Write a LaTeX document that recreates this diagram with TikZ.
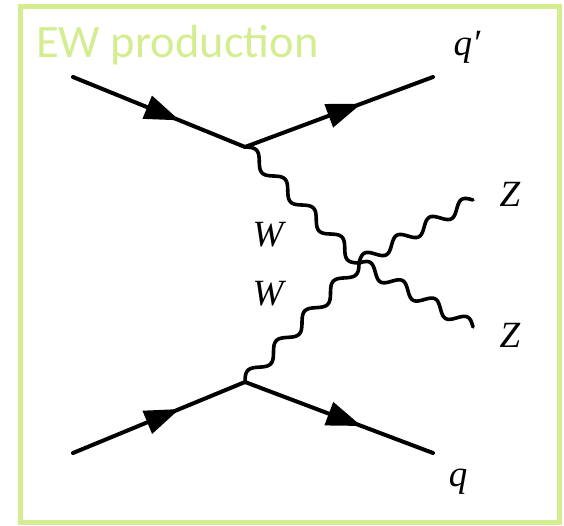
\documentclass[tikz,border=0pt]{standalone}
\usepackage{fontspec}
\setmainfont{Liberation Serif}
\newfontfamily\titlefont{Carlito}
\usetikzlibrary{calc,arrows.meta,decorations.markings}
\definecolor{ewgreen}{RGB}{212,237,145}
\newcommand{\wavebetween}[3]{%
  \draw[wavy] let \p1=(#1), \p2=(#2), \n1={veclen(\x2-\x1,\y2-\y1)} in
    plot[domain=0:1, samples=160, variable=\t]
    ({\x1+\t*(\x2-\x1)-sin(360*#3*\t)*6*(\y2-\y1)/\n1},
     {\y1+\t*(\y2-\y1)+sin(360*#3*\t)*6*(\x2-\x1)/\n1});}
\begin{document}
\begin{tikzpicture}[x=1pt,y=-1pt,
  fermion/.style={line width=4pt, line cap=round,
    postaction={decorate},
    decoration={markings, mark=at position 0.62 with {\arrow{Triangle[length=35pt,width=24pt]}}}},
  wavy/.style={line width=3.6pt, line cap=round, line join=round},
  lab/.style={font=\fontsize{37}{42}\selectfont\itshape, inner sep=0pt}]
\useasboundingbox (0,0) rectangle (564,525);
\draw[ewgreen, line width=5pt] (20.5,6.5) rectangle (559.5,522.5);
\node[anchor=base west, inner sep=0pt, text=ewgreen,
  font=\titlefont\fontsize{46.5}{52}\selectfont] (title) at (36,57) {EW production};
% vertices and ends
\coordinate (a1) at (73,77);
\coordinate (v1) at (245,147);
\coordinate (b1) at (433,77);
\coordinate (a2) at (73,453);
\coordinate (v2) at (245,382);
\coordinate (b2) at (433,453);
\coordinate (c) at (359,263);
\coordinate (z1) at (473,200);
\coordinate (z2) at (473,327);
% fermions
\draw[fermion] (a1) -- (v1);
\draw[fermion] (v1) -- (b1);
\draw[fermion] (a2) -- (v2);
\draw[fermion] (v2) -- (b2);
% bosons
\wavebetween{v1}{c}{4}
\wavebetween{v2}{c}{4}
\wavebetween{c}{z1}{3.5}
\wavebetween{c}{z2}{3.5}
% labels
\node[lab] (qp) at (467,47) {q′};
\node[lab] (q) at (458,482) {q};
\node[lab] (Z1) at (510,194) {Z};
\node[lab] (Z2) at (510,335) {Z};
\node[lab] (W1) at (268,235) {W};
\node[lab] (W2) at (268,294) {W};
\end{tikzpicture}
\end{document}
